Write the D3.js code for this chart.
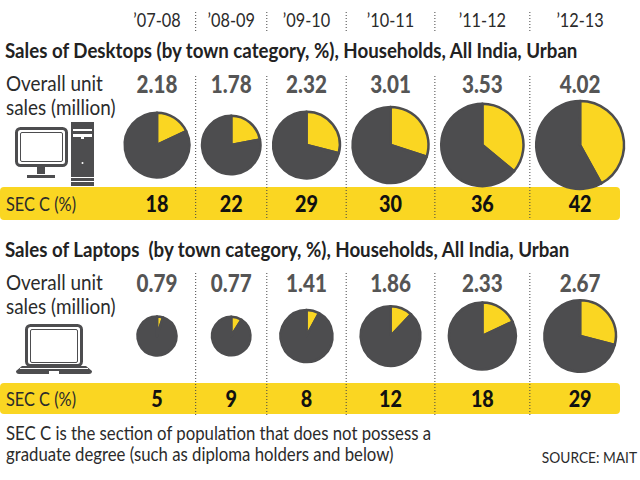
<!DOCTYPE html>
<html>
<head>
<meta charset="utf-8">
<script src="https://cdn.jsdelivr.net/npm/d3@7"></script>
<style>
  body { margin: 0; background: #fff; }
  svg { display: block; font-family: Lato, "Open Sans", sans-serif; }
</style>
</head>
<body>
<svg id="chart" width="640" height="480"></svg>
<script>
// data
const years = ["\u201907-08", "\u201908-09", "\u201909-10", "\u201910-11", "\u201911-12", "\u201912-13"];
const desktopSales = [2.18, 1.78, 2.32, 3.01, 3.53, 4.02];
const desktopSecC = [18, 22, 29, 30, 36, 42];
const laptopSales = [0.79, 0.77, 1.41, 1.86, 2.33, 2.67];
const laptopSecC = [5, 9, 8, 12, 18, 29];

const YELLOW = "#fad622";
const PIE_GREY = "#4d4d4f";
const INK = "#2b2b2b";

const firstX = 157;
const colGap = 12.7;
const squeeze = 0.86;   // the print face is a condensed one

const svg = d3.select("#chart");

// pie area ~ sales, same scale for both panels
const rscale = d3.scaleSqrt()
    .domain([0, d3.max(desktopSales.concat(laptopSales))])
    .range([0, 43.9]);

// column centres: neighbouring pies sit a fixed gap apart
const colR = years.map((y, i) => rscale(Math.max(desktopSales[i], laptopSales[i])));
const colX = [];
colR.forEach((r, i) => {
    colX.push(i === 0 ? firstX : colX[i-1] + colR[i-1] + r + colGap);
});
const xscale = d3.scaleOrdinal().domain(years).range(colX);
const dividers = colX.slice(0, -1).map((x, i) => x + colR[i] + colGap/2);

const pie = d3.pie().sort(null).startAngle(0).endAngle(2*Math.PI);
const arc = d3.arc().innerRadius(0);

function drawDividers(y1, y2) {
    svg.append("g").selectAll("line")
        .data(dividers)
        .join("line")
        .attr("x1", d => d).attr("x2", d => d)
        .attr("y1", y1).attr("y2", y2)
        .style("stroke", "#444")
        .style("stroke-width", 1)
        .style("stroke-dasharray", "1,2");
}

// year header
drawDividers(12, 33);
svg.append("g").selectAll("text")
    .data(years)
    .join("text")
    .attr("x", d => xscale(d))
    .attr("y", 27)
    .attr("text-anchor", "middle")
    .attr("font-size", 19)
    .attr("fill", INK)
    .text(d => d);

function drawPanel(opts) {
    const g = svg.append("g");

    // yellow brush band
    g.append("rect")
        .attr("x", 0).attr("y", opts.bandTop)
        .attr("width", 620).attr("height", opts.bandH)
        .attr("rx", 4)
        .style("fill", YELLOW);

    drawDividers(opts.divTop, opts.divBottom);

    g.append("text")
        .attr("class", "title")
        .attr("x", 5).attr("y", opts.titleY)
        .attr("font-size", 21)
        .attr("font-weight", "bold")
        .attr("fill", "#222")
        .style("white-space", "pre")
        .text(opts.title);

    g.append("text")
        .attr("x", 6).attr("y", opts.labelY)
        .attr("font-size", 22)
        .attr("fill", INK)
        .text("Overall unit");
    g.append("text")
        .attr("x", 6).attr("y", opts.labelY + 24)
        .attr("font-size", 22)
        .attr("fill", INK)
        .text("sales (million)");

    g.append("text")
        .attr("x", 6).attr("y", opts.secY)
        .attr("font-size", 19)
        .attr("fill", INK)
        .text("SEC C (%)");

    const rows = years.map((y, i) => ({year: y, sales: opts.sales[i], sec: opts.sec[i]}));

    g.append("g").selectAll("text")
        .data(rows)
        .join("text")
        .attr("x", d => xscale(d.year))
        .attr("y", opts.labelY + 2)
        .attr("text-anchor", "middle")
        .attr("font-size", 24)
        .attr("font-weight", 900)
        .attr("fill", "#555")
        .text(d => d.sales.toFixed(2));

    g.append("g").selectAll("text")
        .data(rows)
        .join("text")
        .attr("x", d => xscale(d.year))
        .attr("y", opts.secY + 1)
        .attr("text-anchor", "middle")
        .attr("font-size", 23)
        .attr("font-weight", 900)
        .attr("fill", "#111")
        .text(d => d.sec);

    const pies = g.append("g").selectAll("g")
        .data(rows)
        .join("g")
        .attr("transform", d => `translate(${[xscale(d.year), opts.pieY]})`);

    pies.selectAll("path")
        .data(d => pie([d.sec, 100 - d.sec]).map(s => ({...s, r: rscale(d.sales)})))
        .join("path")
        .attr("d", d => arc.outerRadius(d.r)(d))
        .style("fill", (d, i) => i === 0 ? YELLOW : PIE_GREY)
        .style("stroke", PIE_GREY)
        .style("stroke-width", 2.5)
        .style("stroke-linejoin", "round");

    return g;
}

drawPanel({
    title: "Sales of Desktops (by town category, %), Households, All India, Urban",
    sales: desktopSales, sec: desktopSecC,
    titleY: 58, labelY: 91, pieY: 145, secY: 211,
    bandTop: 187, bandH: 33, divTop: 76, divBottom: 220
});

drawPanel({
    title: "Sales of Laptops  (by town category, %), Households, All India, Urban",
    sales: laptopSales, sec: laptopSecC,
    titleY: 257, labelY: 290, pieY: 336, secY: 406,
    bandTop: 383, bandH: 31, divTop: 273, divBottom: 417
});

// desktop icon
const icon = svg.append("g").attr("fill", PIE_GREY);
icon.append("rect").attr("x", 16.5).attr("y", 128.5).attr("width", 50).attr("height", 37).attr("rx", 4)
    .attr("fill", "none").attr("stroke", PIE_GREY).attr("stroke-width", 3);
icon.append("rect").attr("x", 20.5).attr("y", 132.5).attr("width", 42).attr("height", 29).attr("rx", 1.5)
    .attr("fill", "none").attr("stroke", PIE_GREY).attr("stroke-width", 1);
icon.append("rect").attr("x", 37).attr("y", 167).attr("width", 8).attr("height", 7);
icon.append("rect").attr("x", 27).attr("y", 175).attr("width", 28).attr("height", 3);
icon.append("rect").attr("x", 71).attr("y", 122).attr("width", 23).attr("height", 64);
icon.append("rect").attr("x", 73).attr("y", 129).attr("width", 19).attr("height", 2).attr("fill", "#fff");
icon.append("rect").attr("x", 73).attr("y", 134).attr("width", 19).attr("height", 3).attr("fill", "#fff");
icon.append("rect").attr("x", 81).attr("y", 137).attr("width", 3).attr("height", 2).attr("fill", "#fff");
icon.append("circle").attr("cx", 82.5).attr("cy", 163).attr("r", 1).attr("fill", "#fff");
icon.append("rect").attr("x", 71).attr("y", 177).attr("width", 23).attr("height", 1).attr("fill", "#fff");
icon.append("rect").attr("x", 71).attr("y", 181).attr("width", 23).attr("height", 1).attr("fill", "#fff");

// laptop icon
const lap = svg.append("g").attr("fill", PIE_GREY);
lap.append("rect").attr("x", 26.5).attr("y", 325.5).attr("width", 55).attr("height", 40).attr("rx", 4)
    .attr("fill", "none").attr("stroke", PIE_GREY).attr("stroke-width", 3);
lap.append("rect").attr("x", 30.5).attr("y", 329.5).attr("width", 47).attr("height", 33).attr("rx", 1.5)
    .attr("fill", "none").attr("stroke", PIE_GREY).attr("stroke-width", 1);
lap.append("path").attr("d", "M22,366 L86,366 L92,371 Q92,374 89,374 L19,374 Q16,374 16,371 Z");
lap.append("rect").attr("x", 20).attr("y", 368).attr("width", 68).attr("height", 1).attr("fill", "#fff");
lap.append("rect").attr("x", 49).attr("y", 371).attr("width", 10).attr("height", 3).attr("fill", "#fff");

// footer
const foot = svg.append("g").attr("font-size", 19.5).attr("fill", INK);
foot.append("text").attr("x", 6).attr("y", 440)
    .text("SEC C is the section of population that does not possess a");
foot.append("text").attr("x", 6).attr("y", 461)
    .text("graduate degree (such as diploma holders and below)");
svg.append("text")
    .attr("x", 637).attr("y", 463)
    .attr("text-anchor", "end")
    .attr("font-size", 16)
    .attr("fill", INK)
    .text("SOURCE: MAIT");

// squeeze every label horizontally about its anchor point
svg.selectAll("text").each(function() {
    const t = d3.select(this);
    const x = +t.attr("x"), y = +t.attr("y");
    const s = t.classed("title") ? 0.89 : squeeze;
    t.attr("x", 0).attr("y", 0)
        .attr("transform", `translate(${[x, y]}) scale(${s},1)`);
});
</script>
</body>
</html>
